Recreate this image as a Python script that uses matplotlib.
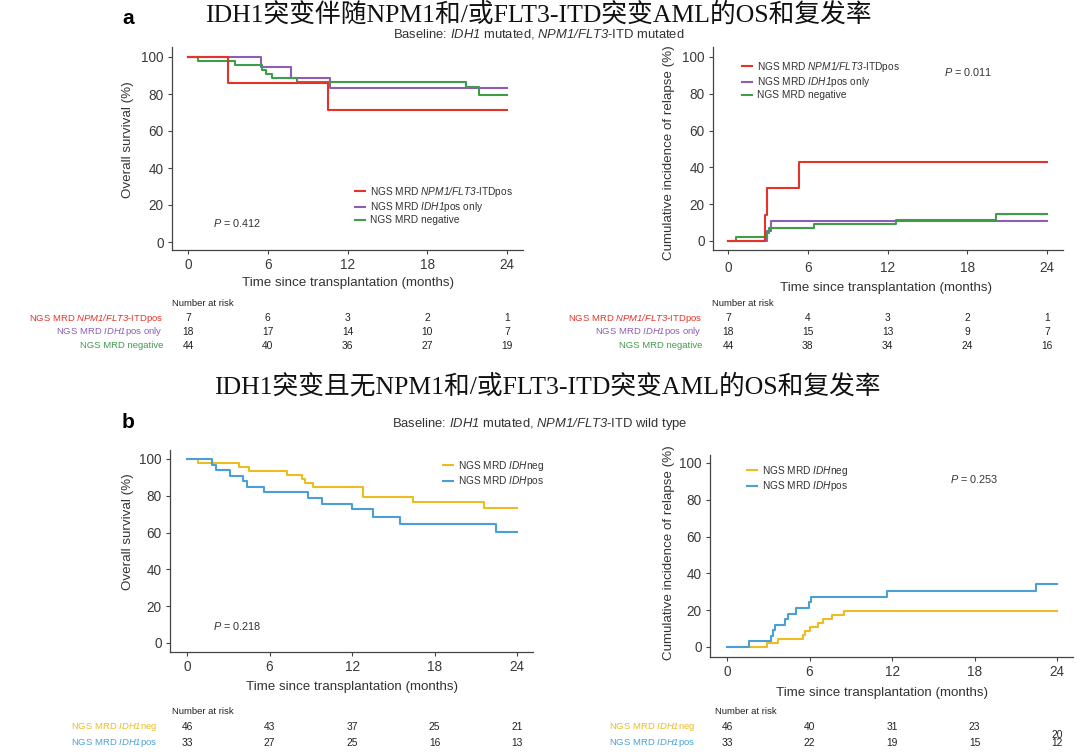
import matplotlib
matplotlib.use("Agg")
import matplotlib.pyplot as plt
from matplotlib import transforms

# ---------------- data ----------------
months_ticks = [0, 6, 12, 18, 24]
pct_ticks = [0, 20, 40, 60, 80, 100]

# Panel a, overall survival
a_os_npm_t = [0, 3.0, 10.5, 24]
a_os_npm_v = [100, 85.7, 71.4, 71.4]
a_os_idh_t = [0, 5.5, 7.75, 10.7, 24]
a_os_idh_v = [100, 94.4, 88.9, 83.3, 83.3]
a_os_neg_t = [0, 0.75, 3.5, 5.6, 5.9, 6.3, 8.2, 20.9, 21.9, 24]
a_os_neg_v = [100, 97.7, 95.5, 93.2, 90.9, 88.6, 86.4, 83.6, 79.7, 79.7]

# Panel a, cumulative incidence of relapse
a_cir_npm_t = [0, 2.76, 2.93, 5.34, 24]
a_cir_npm_v = [0, 14.3, 28.6, 42.9, 42.9]
a_cir_idh_t = [0, 2.9, 3.26, 24]
a_cir_idh_v = [0, 5.6, 11.1, 11.1]
a_cir_neg_t = [0, 0.63, 2.9, 3.1, 6.47, 12.66, 20.2, 24]
a_cir_neg_v = [0, 2.3, 4.5, 6.8, 9.1, 11.6, 14.9, 14.9]

# Panel b, overall survival
b_os_neg_t = [0, 0.77, 3.75, 4.48, 7.26, 8.35, 8.6, 9.15, 12.8, 16.45, 21.6, 24]
b_os_neg_v = [100, 97.8, 95.7, 93.5, 91.3, 89.1, 87.0, 84.8, 79.6, 76.5, 73.4, 73.4]
b_os_pos_t = [0, 1.8, 2.13, 3.15, 4.1, 4.35, 5.6, 8.83, 9.8, 11.98, 13.55, 15.5, 22.5, 24]
b_os_pos_v = [100, 97.0, 93.9, 90.9, 87.9, 84.8, 81.8, 78.8, 75.8, 72.7, 68.7, 64.6, 60.3, 60.3]

# Panel b, cumulative incidence of relapse
b_cir_neg_t = [0, 2.9, 3.68, 5.56, 5.7, 6.05, 6.65, 7.0, 7.6, 8.5, 24]
b_cir_neg_v = [0, 2.2, 4.4, 6.5, 8.7, 10.9, 13.0, 15.2, 17.4, 19.6, 19.6]
b_cir_pos_t = [0, 1.57, 3.22, 3.35, 3.47, 4.23, 4.4, 5.03, 5.93, 6.1, 11.66, 22.45, 24]
b_cir_pos_v = [0, 3.0, 6.1, 9.1, 12.1, 15.2, 18.2, 21.2, 24.2, 27.3, 30.3, 34.4, 34.4]

# Numbers at risk
a_os_risk_npm = [7, 6, 3, 2, 1]
a_os_risk_idh = [18, 17, 14, 10, 7]
a_os_risk_neg = [44, 40, 36, 27, 19]
a_cir_risk_npm = [7, 4, 3, 2, 1]
a_cir_risk_idh = [18, 15, 13, 9, 7]
a_cir_risk_neg = [44, 38, 34, 24, 16]
b_os_risk_neg = [46, 43, 37, 25, 21]
b_os_risk_pos = [33, 27, 25, 16, 13]
b_cir_risk_neg = [46, 40, 31, 23, 20]
b_cir_risk_pos = [33, 22, 19, 15, 12]

p_a_os, p_a_cir, p_b_os, p_b_cir = "0.412", "0.011", "0.218", "0.253"

# ---------------- style ----------------
RED, PURPLE, GREEN = "#E3342B", "#8C5DB5", "#3E9D4A"
YELLOW, BLUE = "#EBBD22", "#4AA0D5"
AXC = "#444444"
TXT = "#333333"

plt.rcParams["font.family"] = ["Liberation Sans", "DejaVu Sans"]
plt.rcParams["mathtext.fontset"] = "custom"
plt.rcParams["mathtext.rm"] = "Liberation Sans"
plt.rcParams["mathtext.it"] = "Liberation Sans:italic"
plt.rcParams["mathtext.sf"] = "Liberation Sans:italic"

W, H = 1080, 756
fig = plt.figure(figsize=(W / 100, H / 100), dpi=100)
fig.patch.set_facecolor("white")


def fx(px):
    return px / W


def fy(py):
    return 1 - py / H


def make_ax(x0, x24, y0, y100, left, right, bottom, top, xpad=3):
    sx = (x24 - x0) / 24.0
    sy = (y0 - y100) / 100.0
    ax = fig.add_axes([fx(left), fy(bottom), (right - left) / W, (bottom - top) / H])
    ax.set_xlim((left - x0) / sx, (right - x0) / sx)
    ax.set_ylim((y0 - bottom) / sy, (y0 - top) / sy)
    ax.set_xticks(months_ticks)
    ax.set_yticks(pct_ticks)
    for s in ["top", "right"]:
        ax.spines[s].set_visible(False)
    for s in ["left", "bottom"]:
        ax.spines[s].set_color(AXC)
        ax.spines[s].set_linewidth(0.9)
    ax.tick_params(length=3, width=0.8, color=AXC, labelcolor="#3a3a3a", labelsize=9.8, pad=3)
    ax.tick_params(axis="x", pad=xpad)
    ax.set_facecolor("none")
    return ax


def px_to_axfrac(ax, px, py):
    b = ax.get_position()
    return ((px / W) - b.x0) / b.width, ((1 - py / H) - b.y0) / b.height


def labels(ax, ylab, ylab_xy, xlab_xy):
    ax.set_ylabel(ylab, fontsize=9.6, color=TXT)
    ax.set_xlabel("Time since transplantation (months)", fontsize=9.6, color=TXT)
    # ylabel: anchor is its right edge when rotated; shift by half text height
    ax.yaxis.set_label_coords(*px_to_axfrac(ax, ylab_xy[0] + 7, ylab_xy[1]))
    # xlabel: anchor is its top edge
    ax.xaxis.set_label_coords(*px_to_axfrac(ax, xlab_xy[0], xlab_xy[1] - 6))


def legend(ax, handles, labs, left, top):
    ax.legend(handles, labs, loc="upper left", bbox_to_anchor=(fx(left), fy(top)),
              bbox_transform=fig.transFigure, frameon=False, fontsize=7.3,
              borderpad=0, borderaxespad=0, handlelength=0.95, handletextpad=0.5,
              labelspacing=0.12, labelcolor=TXT)


def risk_table(ax, rows, label_right, header_left, header_y, row_ys, last_dy=None):
    tr = transforms.blended_transform_factory(ax.transData, fig.transFigure)
    fig.text(fx(header_left), fy(header_y), "Number at risk", fontsize=6.8,
             color="#222222", ha="left", va="center")
    for i, (lab, col, vals) in enumerate(rows):
        yy = row_ys[i]
        fig.text(fx(label_right), fy(yy), lab, fontsize=6.8, color=col,
                 ha="right", va="center")
        for j, (t, v) in enumerate(zip(months_ticks, vals)):
            dy = 0
            if last_dy is not None and j == len(vals) - 1:
                dy = last_dy[i]
            ax.text(t, fy(yy + dy), str(v), transform=tr, fontsize=7.4,
                    color="#222222", ha="center", va="center")


LW = 1.5
lab_npm = r"NGS MRD $\mathsf{NPM1/FLT3}$-ITDpos"
lab_idh = r"NGS MRD $\mathsf{IDH1}$pos only"
lab_neg = "NGS MRD negative"
lab_bneg = r"NGS MRD $\mathsf{IDH}$neg"
lab_bpos = r"NGS MRD $\mathsf{IDH}$pos"

t_npm = lab_npm
t_idh = lab_idh
t_neg = lab_neg
t_bneg = r"NGS MRD $\mathsf{IDH1}$neg"
t_bpos = r"NGS MRD $\mathsf{IDH1}$pos"

# ---------------- Panel a left: OS ----------------
ax1 = make_ax(188, 507, 242, 57, 172, 523, 250, 47)
h_idh, = ax1.step(a_os_idh_t, a_os_idh_v, where="post", color=PURPLE, lw=LW)
h_neg, = ax1.step(a_os_neg_t, a_os_neg_v, where="post", color=GREEN, lw=LW)
h_npm, = ax1.step(a_os_npm_t, a_os_npm_v, where="post", color=RED, lw=LW)
labels(ax1, "Overall survival (%)", (127, 140), (348, 283))
legend(ax1, [h_npm, h_idh, h_neg], [lab_npm, lab_idh, lab_neg], 355, 185)
fig.text(fx(213), fy(223), r"$\mathsf{P}$ = " + p_a_os, fontsize=7.8, color=TXT, va="center")
risk_table(ax1, [(t_npm, RED, a_os_risk_npm), (t_idh, PURPLE, a_os_risk_idh),
                 (t_neg, GREEN, a_os_risk_neg)], 163, 172, 304, [318, 332, 346])

# ---------------- Panel a right: CIR ----------------
ax2 = make_ax(728, 1047, 241, 57, 713, 1063, 250, 47, xpad=5)
h_idh, = ax2.step(a_cir_idh_t, a_cir_idh_v, where="post", color=PURPLE, lw=LW)
h_neg, = ax2.step(a_cir_neg_t, a_cir_neg_v, where="post", color=GREEN, lw=LW)
h_npm, = ax2.step(a_cir_npm_t, a_cir_npm_v, where="post", color=RED, lw=LW)
labels(ax2, "Cumulative incidence of relapse (%)", (668, 153), (886, 288))
legend(ax2, [h_npm, h_idh, h_neg], [lab_npm, lab_idh, lab_neg], 742, 60)
fig.text(fx(944), fy(72), r"$\mathsf{P}$ = " + p_a_cir, fontsize=7.8, color=TXT, va="center")
risk_table(ax2, [(t_npm, RED, a_cir_risk_npm), (t_idh, PURPLE, a_cir_risk_idh),
                 (t_neg, GREEN, a_cir_risk_neg)], 702, 712, 304, [318, 332, 346])

# ---------------- Panel b left: OS ----------------
ax3 = make_ax(187, 517, 643, 459, 170, 533, 652, 450)
h_bneg, = ax3.step(b_os_neg_t, b_os_neg_v, where="post", color=YELLOW, lw=LW)
h_bpos, = ax3.step(b_os_pos_t, b_os_pos_v, where="post", color=BLUE, lw=LW)
labels(ax3, "Overall survival (%)", (127, 532), (352, 687))
legend(ax3, [h_bneg, h_bpos], [lab_bneg, lab_bpos], 443, 459)
fig.text(fx(213), fy(626), r"$\mathsf{P}$ = " + p_b_os, fontsize=7.8, color=TXT, va="center")
risk_table(ax3, [(t_bneg, YELLOW, b_os_risk_neg), (t_bpos, BLUE, b_os_risk_pos)],
           157, 172, 712, [727, 743])

# ---------------- Panel b right: CIR ----------------
ax4 = make_ax(727, 1057, 647, 463, 710, 1073, 657, 455)
h_bneg, = ax4.step(b_cir_neg_t, b_cir_neg_v, where="post", color=YELLOW, lw=LW)
h_bpos, = ax4.step(b_cir_pos_t, b_cir_pos_v, where="post", color=BLUE, lw=LW)
labels(ax4, "Cumulative incidence of relapse (%)", (668, 553), (882, 693))
legend(ax4, [h_bneg, h_bpos], [lab_bneg, lab_bpos], 747, 464)
fig.text(fx(950), fy(479), r"$\mathsf{P}$ = " + p_b_cir, fontsize=7.8, color=TXT, va="center")
risk_table(ax4, [(t_bneg, YELLOW, b_cir_risk_neg), (t_bpos, BLUE, b_cir_risk_pos)],
           695, 715, 712, [727, 743], last_dy=[8, 0])

# ---------------- titles ----------------
TFAM = ["Liberation Serif", "Noto Sans CJK SC"]
fig.text(fx(538), fy(15), "IDH1突变伴随NPM1和/或FLT3-ITD突变AML的OS和复发率", fontsize=18.5,
         family=TFAM, ha="center", va="center", color="#111111")
fig.text(fx(547), fy(386), "IDH1突变且无NPM1和/或FLT3-ITD突变AML的OS和复发率", fontsize=18.5,
         family=TFAM, ha="center", va="center", color="#111111")
fig.text(fx(122), fy(19), "a", fontsize=15, fontweight="bold", ha="left", va="center")
fig.text(fx(122), fy(422), "b", fontsize=15, fontweight="bold", ha="left", va="center")
fig.text(fx(539), fy(34), r"Baseline: $\mathsf{IDH1}$ mutated, $\mathsf{NPM1/FLT3}$-ITD mutated",
         fontsize=9.4, ha="center", va="center", color=TXT)
fig.text(fx(540), fy(424), r"Baseline: $\mathsf{IDH1}$ mutated, $\mathsf{NPM1/FLT3}$-ITD wild type",
         fontsize=9.4, ha="center", va="center", color=TXT)

fig.savefig("out.png", dpi=100, facecolor="white")
